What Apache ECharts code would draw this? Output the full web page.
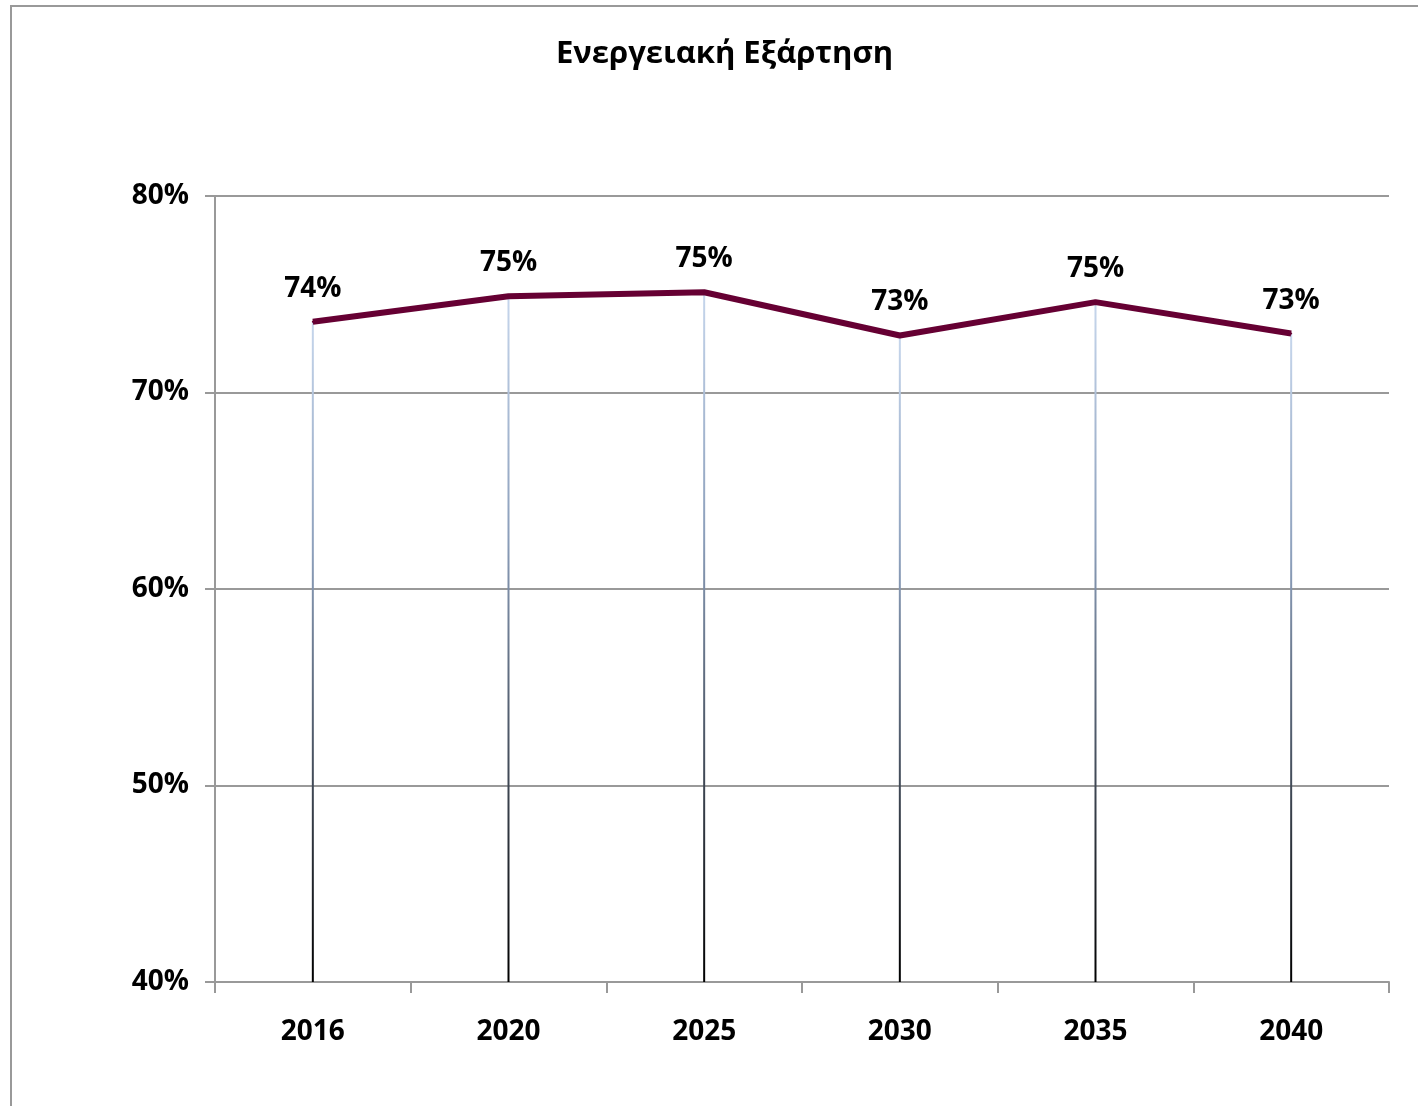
<!DOCTYPE html>
<html>
<head>
<meta charset="utf-8">
<script src="https://cdn.jsdelivr.net/npm/echarts@6/dist/echarts.min.js"></script>
<style>
html,body{margin:0;padding:0;background:#fff;}
#frame{position:absolute;left:10px;top:5px;width:1420px;height:1120px;border-left:2px solid #999;border-top:2px solid #999;box-sizing:border-box;}
#chart{position:absolute;left:0;top:0;width:1418px;height:1106px;}
</style>
</head>
<body>
<div id="frame"></div>
<div id="chart"></div>
<script>
const titleText = 'Ενεργειακή Εξάρτηση';
const years = ['2016', '2020', '2025', '2030', '2035', '2040'];
const dependence = [73.6, 74.9, 75.1, 72.9, 74.6, 73.0];
const yTicks = [40, 50, 60, 70, 80];

const FONT = "'Open Sans', sans-serif";
const chart = echarts.init(document.getElementById('chart'), null, {renderer: 'canvas'});

chart.setOption({
  backgroundColor: 'transparent',
  animation: false,
  title: {
    text: titleText,
    left: 551,
    top: 34,
    textStyle: {fontFamily: FONT, fontWeight: 'bold', fontSize: 31, color: '#000'}
  },
  grid: {left: 215, right: 29, top: 196, bottom: 124},
  xAxis: {
    type: 'category',
    data: years,
    boundaryGap: true,
    axisLine: {lineStyle: {color: '#999', width: 2}},
    axisTick: {show: true, inside: false, length: 11, alignWithLabel: false, lineStyle: {color: '#999', width: 2}},
    axisLabel: {margin: 36, fontFamily: FONT, fontWeight: 'bold', fontSize: 28, color: '#000'},
    splitLine: {show: false}
  },
  yAxis: {
    type: 'value',
    min: yTicks[0],
    max: yTicks[yTicks.length - 1],
    interval: 10,
    axisLine: {show: true, lineStyle: {color: '#999', width: 2}},
    axisTick: {show: true, length: 10, lineStyle: {color: '#999', width: 2}},
    axisLabel: {margin: 26, fontFamily: FONT, fontWeight: 'bold', fontSize: 28, color: '#000',
      formatter: v => v + '%'},
    splitLine: {show: true, lineStyle: {color: '#999', width: 2}}
  },
  series: [
    {
      type: 'custom',
      z: 1,
      silent: true,
      data: dependence.map((v, i) => [i, v]),
      renderItem: function (params, api) {
        const top = api.coord([api.value(0), api.value(1)]);
        const bottom = api.coord([api.value(0), yTicks[0]]);
        return {
          type: 'rect',
          shape: {x: top[0] - 1, y: top[1], width: 2, height: bottom[1] - top[1]},
          style: {
            fill: new echarts.graphic.LinearGradient(0, 0, 0, 1, [
              {offset: 0, color: '#c6d6ec'},
              {offset: 0.35, color: '#8c9fbb'},
              {offset: 1, color: '#000000'}
            ])
          }
        };
      }
    },
    {
      type: 'line',
      z: 3,
      data: dependence,
      symbol: 'circle',
      symbolSize: 2,
      showSymbol: true,
      itemStyle: {color: '#660033'},
      lineStyle: {color: '#660033', width: 6},
      label: {
        show: true,
        position: 'top',
        distance: 18,
        fontFamily: FONT,
        fontWeight: 'bold',
        fontSize: 28,
        color: '#000',
        formatter: p => Math.round(p.value) + '%'
      }
    }
  ]
});
</script>
</body>
</html>
